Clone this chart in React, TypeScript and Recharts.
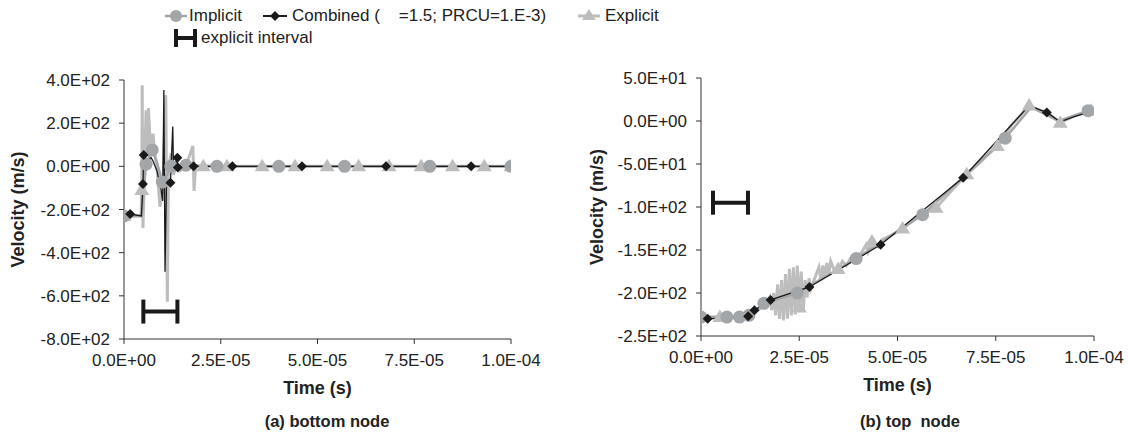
import React from 'react';
import { ComposedChart, Line, Scatter, ErrorBar, XAxis, YAxis } from 'recharts';

// time in microseconds, velocity in m/s; m = draw a marker at this point
type Pt = { t: number; v: number; m?: boolean };

const timeTicks = [0, 25, 50, 75, 100];
const bottomVelTicks = [-800, -600, -400, -200, 0, 200, 400];
const topVelTicks = [-250, -200, -150, -100, -50, 0, 50];

const bottomImplicit: Pt[] = [
  { t: 0, v: -230, m: true }, { t: 4.5, v: -230 }, { t: 5.7, v: 10, m: true }, { t: 7.3, v: 76, m: true },
  { t: 8.5, v: 20 }, { t: 9.9, v: -73, m: true }, { t: 10.6, v: -60 }, { t: 12.1, v: 0, m: true },
  { t: 13, v: -20 }, { t: 16, v: 5, m: true }, { t: 24, v: 0, m: true }, { t: 40, v: 0, m: true },
  { t: 57, v: 0, m: true }, { t: 79, v: 0, m: true }, { t: 100, v: 0, m: true },
];

const bottomCombined: Pt[] = [
  { t: 0, v: -230 }, { t: 1.6, v: -221, m: true }, { t: 4.5, v: -230 }, { t: 4.9, v: -82, m: true },
  { t: 5.1, v: 52, m: true }, { t: 6, v: 20 }, { t: 7, v: 40 }, { t: 7.5, v: 25 }, { t: 8.5, v: -20 },
  { t: 9.5, v: -100 }, { t: 10, v: -160 }, { t: 10.3, v: 354 }, { t: 10.6, v: -488 }, { t: 11, v: -60 },
  { t: 12, v: -76, m: true }, { t: 12.6, v: 184 }, { t: 12.8, v: -17 }, { t: 13.8, v: 40, m: true },
  { t: 13.9, v: -5, m: true }, { t: 15, v: -10 }, { t: 18, v: 0, m: true }, { t: 28, v: 0, m: true },
  { t: 46, v: 0, m: true }, { t: 67.7, v: 0, m: true }, { t: 89.7, v: 0, m: true }, { t: 100, v: 0 },
];

const bottomExplicit: Pt[] = [
  { t: 0, v: -230, m: true }, { t: 4.4, v: -230 }, { t: 4.6, v: -110, m: true }, { t: 4.7, v: 376 },
  { t: 4.9, v: -286 }, { t: 5.3, v: -20 }, { t: 5.7, v: 260 }, { t: 6, v: 50 }, { t: 6.3, v: 270 },
  { t: 6.8, v: 100 }, { t: 7.5, v: 150 }, { t: 8, v: 50 }, { t: 8.5, v: 0 }, { t: 9.3, v: -187 },
  { t: 10, v: -100 }, { t: 10.8, v: 330 }, { t: 11.2, v: -627 }, { t: 11.5, v: 0 }, { t: 12.2, v: 60 },
  { t: 12.8, v: -40 }, { t: 13.5, v: 10 }, { t: 14.5, v: -20 }, { t: 16, v: 0 }, { t: 17.8, v: 94 },
  { t: 18.1, v: -114 }, { t: 18.5, v: 0 }, { t: 20.5, v: 0, m: true }, { t: 26.6, v: 0, m: true },
  { t: 35.7, v: 0, m: true }, { t: 44.2, v: 0, m: true }, { t: 52.5, v: 0, m: true }, { t: 60.6, v: 0, m: true },
  { t: 68.5, v: 0, m: true }, { t: 76.8, v: 0, m: true }, { t: 84.9, v: 0, m: true }, { t: 93.1, v: 0, m: true },
  { t: 100, v: 0, m: true },
];

const topImplicit: Pt[] = [
  { t: 0, v: -228, m: true }, { t: 6.6, v: -228, m: true }, { t: 9.8, v: -228, m: true }, { t: 12.2, v: -226, m: true },
  { t: 16, v: -212, m: true }, { t: 24.5, v: -200, m: true }, { t: 39.5, v: -160, m: true }, { t: 56.4, v: -109, m: true },
  { t: 77.4, v: -20, m: true }, { t: 84, v: 16 }, { t: 91, v: 0 }, { t: 98.5, v: 12, m: true }, { t: 100, v: 12 },
];

const topCombined: Pt[] = [
  { t: 0, v: -228 }, { t: 1.7, v: -230, m: true }, { t: 6, v: -229 }, { t: 12, v: -227, m: true },
  { t: 13.6, v: -220, m: true }, { t: 17.7, v: -208, m: true }, { t: 27.6, v: -193, m: true },
  { t: 45.7, v: -144, m: true }, { t: 66.7, v: -66, m: true }, { t: 83.5, v: 18 }, { t: 88, v: 10, m: true },
  { t: 91.4, v: -1 }, { t: 95, v: 5 }, { t: 100, v: 12 },
];

const topExplicit: Pt[] = [
  { t: 0, v: -228, m: true }, { t: 4.8, v: -228, m: true }, { t: 9, v: -229 }, { t: 13, v: -225 }, { t: 15, v: -218 },
  { t: 16.5, v: -214 }, { t: 17.5, v: -205 }, { t: 18, v: -220 }, { t: 18.5, v: -200 }, { t: 19, v: -226 },
  { t: 19.5, v: -190 }, { t: 20, v: -230 }, { t: 20.5, v: -185 }, { t: 21, v: -232 }, { t: 21.5, v: -178 },
  { t: 22, v: -230 }, { t: 22.5, v: -172 }, { t: 23, v: -226 }, { t: 23.5, v: -170 }, { t: 24, v: -225 },
  { t: 24.5, v: -168 }, { t: 25, v: -217, m: true }, { t: 25.5, v: -175 }, { t: 26, v: -222 }, { t: 26.5, v: -185 },
  { t: 27, v: -205 }, { t: 27.5, v: -183 }, { t: 28, v: -195 }, { t: 29, v: -182 }, { t: 30, v: -170 },
  { t: 30.5, v: -185 }, { t: 31, v: -168 }, { t: 31.5, v: -182 }, { t: 32, v: -165 }, { t: 32.5, v: -178 },
  { t: 33, v: -163 }, { t: 34, v: -175 }, { t: 34.9, v: -172, m: true }, { t: 36, v: -163 }, { t: 37, v: -168 },
  { t: 38, v: -160 }, { t: 39.5, v: -160 }, { t: 41, v: -152 }, { t: 42, v: -144 }, { t: 42.5, v: -152 },
  { t: 43.5, v: -140, m: true }, { t: 45, v: -146 }, { t: 46, v: -138 }, { t: 48, v: -134 }, { t: 51.3, v: -125, m: true },
  { t: 55, v: -112 }, { t: 59.8, v: -101, m: true }, { t: 63, v: -85 }, { t: 67.6, v: -62, m: true }, { t: 71, v: -48 },
  { t: 75.4, v: -29, m: true }, { t: 79, v: -5 }, { t: 83.5, v: 18, m: true }, { t: 86, v: 12 }, { t: 88, v: 10 },
  { t: 91.4, v: -2, m: true }, { t: 95, v: 6 }, { t: 99.3, v: 12, m: true }, { t: 100, v: 12 },
];

// explicit interval bars: centre time, half-width, drawn at velocity v
const bottomInterval = [{ t: 9.4, v: -673, half: 4.4 }];
const topInterval = [{ t: 7.5, v: -95, half: 4.45 }];

const FONT = '"Liberation Sans", Arial, sans-serif';
const TEXT = '#222';
const IMPL = '#a3a6a9';
const COMB = '#1a1a1a';
const EXPL = '#bdbdbd';

const sci = (v: number, scale: number) => {
  const [mant, exp] = (v * scale).toExponential(1).split('e');
  const sign = exp[0] === '-' ? '-' : '+';
  const digits = exp.replace(/[+-]/, '').padStart(2, '0');
  return `${mant}E${sign}${digits}`;
};

const circleDot = (p: any) => {
  if (!p.payload?.m || p.cx == null) return <g key={p.index} />;
  return <circle key={p.index} cx={p.cx} cy={p.cy} r={6.5} fill={IMPL} />;
};

const diamondDot = (p: any) => {
  if (!p.payload?.m || p.cx == null) return <g key={p.index} />;
  const { cx, cy } = p;
  return <polygon key={p.index} points={`${cx},${cy - 5} ${cx + 5},${cy} ${cx},${cy + 5} ${cx - 5},${cy}`} fill={COMB} />;
};

const triangleDot = (p: any) => {
  if (!p.payload?.m || p.cx == null) return <g key={p.index} />;
  const { cx, cy } = p;
  return <polygon key={p.index} points={`${cx},${cy - 7.5} ${cx + 7.5},${cy + 5} ${cx - 7.5},${cy + 5}`} fill={EXPL} />;
};

interface PanelProps {
  implicit: Pt[];
  combined: Pt[];
  explicit: Pt[];
  interval: { t: number; v: number; half: number }[];
  yTicks: number[];
  width: number;
  margin: { top: number; right: number; bottom: number; left: number };
  yAxisWidth: number;
  labelOffset: number;
}

function Panel({ implicit, combined, explicit, interval, yTicks, width, margin, yAxisWidth, labelOffset }: PanelProps) {
  const tickStyle = { fontSize: 17, fill: TEXT, fontFamily: FONT };
  return (
    <ComposedChart width={width} height={434} margin={margin}>
      <XAxis
        type="number"
        dataKey="t"
        domain={[0, 100]}
        ticks={timeTicks}
        tickFormatter={(v) => sci(v, 1e-6)}
        tick={tickStyle}
        tickSize={5}
        tickMargin={10}
        stroke="#333"
        height={60}
        allowDataOverflow
        label={{ value: 'Time (s)', position: 'insideBottom', offset: 5, style: { fontSize: 18, fontWeight: 'bold', fill: TEXT, fontFamily: FONT } }}
      />
      <YAxis
        type="number"
        dataKey="v"
        domain={[yTicks[0], yTicks[yTicks.length - 1]]}
        ticks={yTicks}
        tickFormatter={(v) => sci(v, 1)}
        tick={tickStyle}
        tickSize={5}
        tickMargin={9}
        stroke="#333"
        width={yAxisWidth}
        allowDataOverflow
        label={{ value: 'Velocity (m/s)', angle: -90, position: 'insideLeft', offset: labelOffset, style: { textAnchor: 'middle', fontSize: 18, fontWeight: 'bold', fill: TEXT, fontFamily: FONT } }}
      />
      <Line data={explicit} dataKey="v" type="linear" stroke={EXPL} strokeWidth={3} dot={triangleDot} activeDot={false} isAnimationActive={false} />
      <Line data={implicit} dataKey="v" type="linear" stroke={IMPL} strokeWidth={2.5} dot={circleDot} activeDot={false} isAnimationActive={false} />
      <Line data={combined} dataKey="v" type="linear" stroke={COMB} strokeWidth={1.3} dot={diamondDot} activeDot={false} isAnimationActive={false} />
      <Scatter data={interval} dataKey="v" shape={() => <g />} isAnimationActive={false}>
        <ErrorBar dataKey="half" direction="x" width={12} stroke={COMB} strokeWidth={4} />
      </Scatter>
    </ComposedChart>
  );
}

function Legend() {
  const txt: React.CSSProperties = { position: 'absolute', fontSize: 17, fontFamily: FONT, color: TEXT, lineHeight: '19px', whiteSpace: 'pre' };
  return (
    <>
      <svg style={{ position: 'absolute', left: 0, top: 0 }} width={700} height={50}>
        <line x1={165} y1={16} x2={187} y2={16} stroke={IMPL} strokeWidth={2.5} />
        <circle cx={176} cy={16} r={6} fill={IMPL} />
        <line x1={263} y1={16} x2={287} y2={16} stroke={COMB} strokeWidth={2} />
        <polygon points="275,11 280,16 275,21 270,16" fill={COMB} />
        <line x1={578} y1={16} x2={600} y2={16} stroke={EXPL} strokeWidth={3} />
        <polygon points="589,9 596,20 582,20" fill={EXPL} />
        <g stroke={COMB} strokeWidth={4}>
          <line x1={176} y1={38} x2={195} y2={38} />
          <line x1={176} y1={29} x2={176} y2={47} />
          <line x1={195} y1={29} x2={195} y2={47} />
        </g>
      </svg>
      <div style={{ ...txt, left: 189, top: 6 }}>Implicit</div>
      <div style={{ ...txt, left: 292, top: 6 }}>Combined (    =1.5; PRCU=1.E-3)</div>
      <div style={{ ...txt, left: 605, top: 6 }}>Explicit</div>
      <div style={{ ...txt, left: 201, top: 28 }}>explicit interval</div>
    </>
  );
}

export default function App() {
  const sub: React.CSSProperties = { position: 'absolute', top: 412, fontSize: 16.5, fontWeight: 'bold', fontFamily: FONT, color: TEXT, whiteSpace: 'pre', transform: 'translateX(-50%)' };
  return (
    <div style={{ position: 'absolute', left: 0, top: 0, width: 1128, height: 434, background: '#fff', overflow: 'hidden' }}>
      <div style={{ position: 'absolute', left: 0, top: 0 }}>
        <Panel
          implicit={bottomImplicit}
          combined={bottomCombined}
          explicit={bottomExplicit}
          interval={bottomInterval}
          yTicks={bottomVelTicks}
          width={560}
          margin={{ top: 80, right: 49, bottom: 35, left: 0 }}
          yAxisWidth={124}
          labelOffset={18}
        />
      </div>
      <div style={{ position: 'absolute', left: 560, top: 0 }}>
        <Panel
          implicit={topImplicit}
          combined={topCombined}
          explicit={topExplicit}
          interval={topInterval}
          yTicks={topVelTicks}
          width={568}
          margin={{ top: 78, right: 34, bottom: 38, left: 0 }}
          yAxisWidth={141}
          labelOffset={37}
        />
      </div>
      <Legend />
      <div style={{ ...sub, left: 327 }}>(a) bottom node</div>
      <div style={{ ...sub, left: 910 }}>(b) top  node</div>
    </div>
  );
}
